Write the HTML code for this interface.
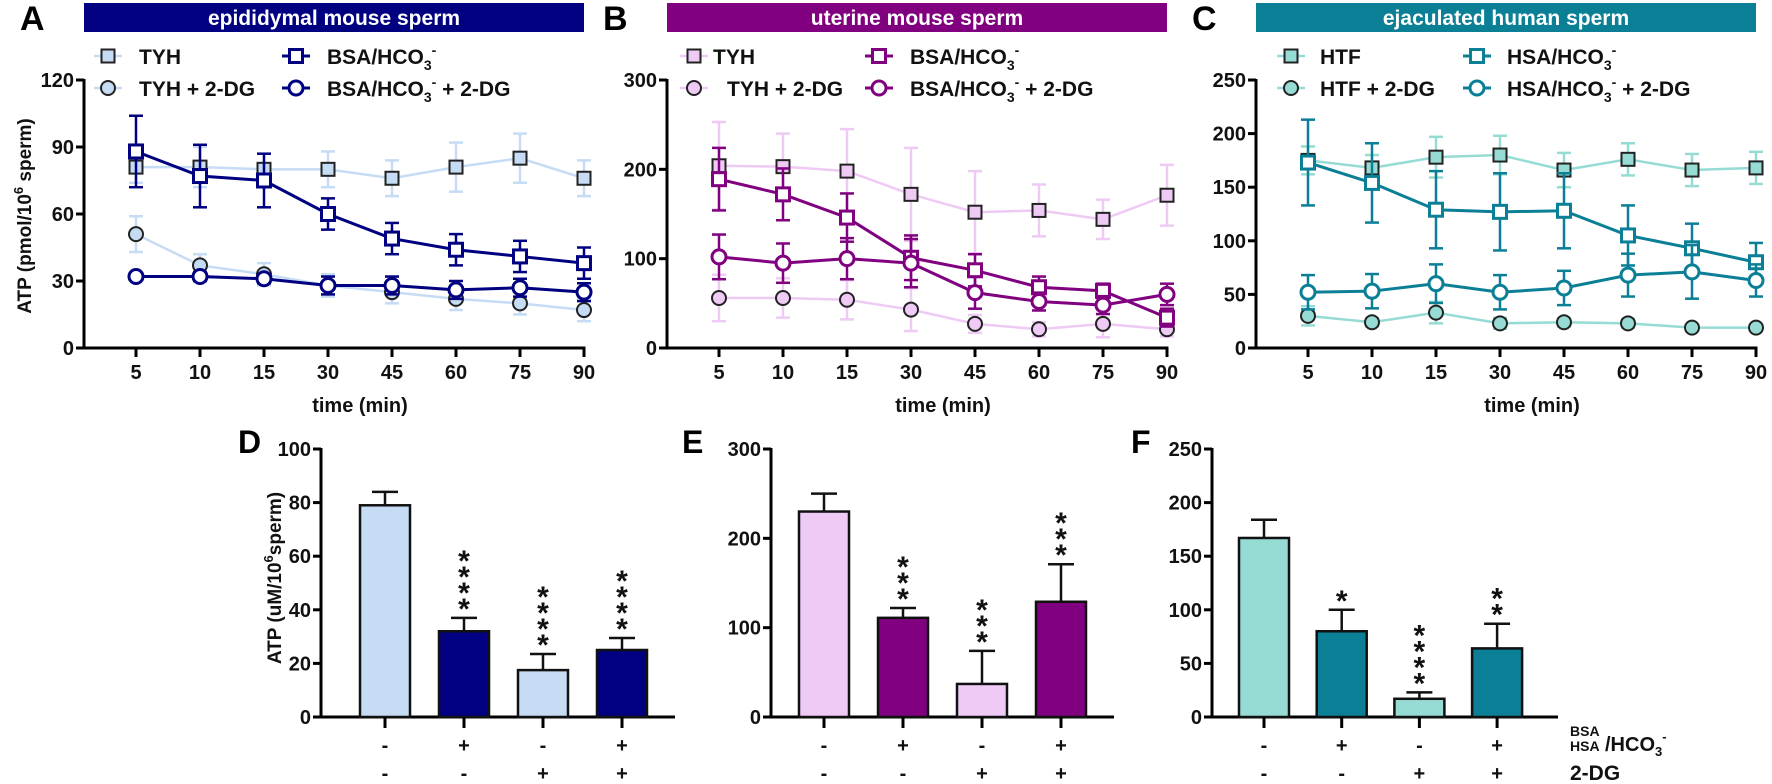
<!DOCTYPE html>
<html><head><meta charset="utf-8"><style>
html,body{margin:0;padding:0;background:#fff;}
svg{display:block;font-family:"Liberation Sans",Arial,sans-serif;font-weight:bold;}
</style></head><body>
<svg id="fig" width="1772" height="784" viewBox="0 0 1772 784" xmlns="http://www.w3.org/2000/svg"></svg>
<script>
const times=['5','10','15','30','45','60','75','90'];
const aTicks=[0,30,60,90,120], bTicks=[0,100,200,300], cTicks=[0,50,100,150,200,250];
// Panel A
const aTYH=[81,81,80,80,76,81,85,76], aTYHerr=[7,9,7,8,8,11,11,8];
const aBSA=[88,77,75,60,49,44,41,38], aBSAerr=[16,14,12,7,7,7,7,7];
const aTYH2=[51,37,33,28,25,22,20,17], aTYH2err=[8,5,5,5,5,5,5,5];
const aBSA2=[32,32,31,28,28,26,27,25], aBSA2err=[1,2,2,4,4,4,4,4];
// Panel B
const bTYH=[204,203,198,172,152,154,144,171], bTYHerr=[49,37,47,52,46,29,22,34];
const bBSA=[189,172,146,101,87,68,64,34], bBSAerr=[35,29,27,25,18,12,8,10];
const bTYH2=[56,56,54,43,27,21,27,21], bTYH2err=[26,22,22,24,10,8,15,8];
const bBSA2=[102,95,100,95,62,52,48,60], bBSA2err=[25,22,23,27,18,10,10,12];
// Panel C
const cHTF=[175,168,178,180,166,176,166,168], cHTFerr=[13,12,19,18,16,15,15,15];
const cHSA=[173,154,129,127,128,105,93,80], cHSAerr=[40,37,36,36,35,28,23,18];
const cHTF2=[30,24,33,23,24,23,19,19], cHTF2err=[9,4,10,5,4,4,3,3];
const cHSA2=[52,53,60,52,56,68,71,63], cHSA2err=[16,16,18,16,16,20,25,15];
// Bar panels
const dVals=[79,32,17.5,25], dErr=[5,5,6,4.5], dStars=['','****','****','****'];
const eVals=[230,111,37,129], eErr=[20,11,37,42], eStars=['','***','***','***'];
const fVals=[167,80,17,64], fErr=[17,20,6,23], fStars=['','*','****','**'];
const dTicks=[0,20,40,60,80,100], eTicks=[0,100,200,300], fTicks=[0,50,100,150,200,250];
const row1=['-','+','-','+'], row2=['-','-','+','+'];

const NS='http://www.w3.org/2000/svg';
const svg=document.getElementById('fig');
function mk(tag,attrs,parent,text){const e=document.createElementNS(NS,tag);for(const k in attrs)e.setAttribute(k,attrs[k]);if(text!==undefined)e.textContent=text;(parent||svg).appendChild(e);return e;}
function grp(name,parent){const g=mk('g',{},parent);return g;}

function legendLabel(g,x,y,base,suffix){
  const t=mk('text',{x:x,y:y,'font-size':21,fill:'#111'},g);
  
  mk('tspan',{},t,base);
  if(base.indexOf('HCO')>=0){mk('tspan',{'font-size':14,dy:6},t,'3');mk('tspan',{'font-size':14,dy:-15},t,'-');mk('tspan',{dy:9},t,suffix||'');}
  else if(suffix){mk('tspan',{},t,suffix);}
}
function marker(g,shape,x,y,fill,stroke,sw){
  let m;
  if(shape==='sq')m=mk('rect',{x:x-6.5,y:y-6.5,width:13,height:13,fill:fill,stroke:stroke,'stroke-width':sw},g);
  else m=mk('circle',{cx:x,cy:y,r:7,fill:fill,stroke:stroke,'stroke-width':sw},g);
  return m;
}

function linePanel(p){
  const g=grp(p.name);
  const x0=p.ax, step=64, first=p.ax+52;
  const xs=i=>first+i*step;
  const y0=348, yt=80, ymax=p.ticks[p.ticks.length-1];
  const ys=v=>y0-(v/ymax)*(y0-yt);
  const hr=mk('rect',{x:p.ax,y:3,width:xs(7)-p.ax,height:29,fill:p.dark},g);
  
  const ht=mk('text',{x:(p.ax+xs(7))/2,y:25,'text-anchor':'middle','font-size':21,fill:'#fff'},g,p.title);
  
  const pl=mk('text',{x:p.ax-64,y:30,'font-size':34,fill:'#000'},g,p.letter);
  
  const ya=mk('line',{x1:x0,y1:yt-1,x2:x0,y2:y0,stroke:'#000','stroke-width':3},g);
  
  const xa=mk('line',{x1:x0-8,y1:y0,x2:xs(7)+1.5,y2:y0,stroke:'#000','stroke-width':3},g);
  
  p.ticks.forEach(t=>{const y=ys(t);mk('line',{x1:x0-8,y1:y,x2:x0,y2:y,stroke:'#000','stroke-width':3},g);
    const tl=mk('text',{x:x0-10,y:y+7,'text-anchor':'end','font-size':20,fill:'#111'},g,String(t));
    });
  times.forEach((t,i)=>{mk('line',{x1:xs(i),y1:y0,x2:xs(i),y2:y0+9,stroke:'#000','stroke-width':3},g);
    const tl=mk('text',{x:xs(i),y:y0+31,'text-anchor':'middle','font-size':20,fill:'#111'},g,t);
    });
  const xt=mk('text',{x:(first+xs(7))/2,y:412,'text-anchor':'middle','font-size':20,fill:'#111'},g,'time (min)');
  
  if(p.ytitle){const yt2=mk('text',{x:0,y:0,transform:'translate(31,216) rotate(-90)','text-anchor':'middle','font-size':19,fill:'#111'},g);
    
    mk('tspan',{},yt2,'ATP (pmol/10');mk('tspan',{'font-size':13,dy:-8},yt2,'6');mk('tspan',{dy:8},yt2,' sperm)');}
  p.series.forEach(s=>{
    const sg=grp('series-'+s.key,g);
    const col=s.light?p.light:p.dark;
    s.vals.forEach((v,i)=>{const x=xs(i),e=s.err[i];
      mk('line',{x1:x,y1:ys(v+e),x2:x,y2:ys(v-e),stroke:col,'stroke-width':2.5},sg);
      mk('line',{x1:x-7,y1:ys(v+e),x2:x+7,y2:ys(v+e),stroke:col,'stroke-width':2.5},sg);
      mk('line',{x1:x-7,y1:ys(v-e),x2:x+7,y2:ys(v-e),stroke:col,'stroke-width':2.5},sg);});
    const pts=s.vals.map((v,i)=>xs(i)+','+ys(v)).join(' ');
    mk('polyline',{points:pts,fill:'none',stroke:col,'stroke-width':s.light?2.5:3},sg);
    s.vals.forEach((v,i)=>{const m=s.light?marker(sg,s.shape,xs(i),ys(v),p.light,'#222',2):marker(sg,s.shape,xs(i),ys(v),'#fff',p.dark,3);
      });
  });
  const lg=grp('legend',g);
  p.series.forEach(s=>{
    const col=s.light?p.light:p.dark;
    const mx=p.ax+s.lx, my=s.ly;
    const le=grp('legend-entry',lg);
    mk('line',{x1:mx-14,y1:my,x2:mx+14,y2:my,stroke:col,'stroke-width':s.light?2.5:3},le);
    if(s.light)marker(le,s.shape,mx,my,p.light,'#222',2);else marker(le,s.shape,mx,my,'#fff',p.dark,3);
    legendLabel(le,p.ax+s.tx,my+8,s.label,s.suffix);
  });
}

linePanel({name:'panel-a',letter:'A',title:'epididymal mouse sperm',ax:84,ticks:aTicks,dark:'#000080',light:'#c6dcf5',ytitle:true,series:[
 {key:'tyh',vals:aTYH,err:aTYHerr,light:true,shape:'sq',lx:24,ly:56,tx:55,label:'TYH'},
 {key:'tyh-2dg',vals:aTYH2,err:aTYH2err,light:true,shape:'ci',lx:24,ly:88,tx:55,label:'TYH + 2-DG'},
 {key:'bsa',vals:aBSA,err:aBSAerr,light:false,shape:'sq',lx:212,ly:56,tx:243,label:'BSA/HCO'},
 {key:'bsa-2dg',vals:aBSA2,err:aBSA2err,light:false,shape:'ci',lx:212,ly:88,tx:243,label:'BSA/HCO',suffix:' + 2-DG'}]});
linePanel({name:'panel-b',letter:'B',title:'uterine mouse sperm',ax:667,ticks:bTicks,dark:'#800080',light:'#eecaf5',series:[
 {key:'tyh',vals:bTYH,err:bTYHerr,light:true,shape:'sq',lx:27,ly:56,tx:46,label:'TYH'},
 {key:'tyh-2dg',vals:bTYH2,err:bTYH2err,light:true,shape:'ci',lx:27,ly:88,tx:60,label:'TYH + 2-DG'},
 {key:'bsa',vals:bBSA,err:bBSAerr,light:false,shape:'sq',lx:212,ly:56,tx:243,label:'BSA/HCO'},
 {key:'bsa-2dg',vals:bBSA2,err:bBSA2err,light:false,shape:'ci',lx:212,ly:88,tx:243,label:'BSA/HCO',suffix:' + 2-DG'}]});
linePanel({name:'panel-c',letter:'C',title:'ejaculated human sperm',ax:1256,ticks:cTicks,dark:'#0a7f96',light:'#96dcd4',series:[
 {key:'htf',vals:cHTF,err:cHTFerr,light:true,shape:'sq',lx:35,ly:56,tx:64,label:'HTF'},
 {key:'htf-2dg',vals:cHTF2,err:cHTF2err,light:true,shape:'ci',lx:35,ly:88,tx:64,label:'HTF + 2-DG'},
 {key:'hsa',vals:cHSA,err:cHSAerr,light:false,shape:'sq',lx:221,ly:56,tx:251,label:'HSA/HCO'},
 {key:'hsa-2dg',vals:cHSA2,err:cHSA2err,light:false,shape:'ci',lx:221,ly:88,tx:251,label:'HSA/HCO',suffix:' + 2-DG'}]});

function barPanel(p){
  const g=grp(p.name);
  const y0=717, yt=449, ymax=p.ticks[p.ticks.length-1];
  const ys=v=>y0-(v/ymax)*(y0-yt);
  const xs=i=>p.ax+p.off+i*p.step;
  const pl=mk('text',{x:p.lx,y:453,'font-size':32,fill:'#000'},g,p.letter);
  
  const ya=mk('line',{x1:p.ax,y1:yt-1,x2:p.ax,y2:y0,stroke:'#000','stroke-width':3},g);
  
  const xa=mk('line',{x1:p.ax-8,y1:y0,x2:p.xend,y2:y0,stroke:'#000','stroke-width':3},g);
  
  p.ticks.forEach(t=>{const y=ys(t);mk('line',{x1:p.ax-8,y1:y,x2:p.ax,y2:y,stroke:'#000','stroke-width':3},g);
    const tl=mk('text',{x:p.ax-10,y:y+7,'text-anchor':'end','font-size':20,fill:'#111'},g,String(t));
    });
  if(p.ytitle){const t=mk('text',{x:0,y:0,transform:'translate(281,578) rotate(-90)','text-anchor':'middle','font-size':19,fill:'#111'},g);
    
    mk('tspan',{},t,'ATP (uM/10');mk('tspan',{'font-size':13,dy:-8},t,'6');mk('tspan',{dy:8},t,'sperm)');}
  p.vals.forEach((v,i)=>{
    const x=xs(i), col=(i%2===0)?p.light:p.dark, e=p.err[i];
    const bg=grp('bar-'+(i+1),g);
    mk('line',{x1:x,y1:ys(v),x2:x,y2:ys(v+e),stroke:'#111','stroke-width':2.5},bg);
    mk('line',{x1:x-13,y1:ys(v+e),x2:x+13,y2:ys(v+e),stroke:'#111','stroke-width':2.5},bg);
    mk('rect',{x:x-25,y:ys(v),width:50,height:y0-ys(v),fill:col,stroke:'#111','stroke-width':2.5},bg);
    mk('line',{x1:x,y1:y0,x2:x,y2:y0+11,stroke:'#000','stroke-width':3},bg);
    const st=p.stars[i];
    for(let k=0;k<st.length;k++){
      const s=mk('text',{x:x,y:ys(v+e)+1-k*16,'text-anchor':'middle','font-size':30,fill:'#111'},bg,'*');
      
    }
    const r1=mk('text',{x:x,y:752,'text-anchor':'middle','font-size':20,fill:'#111'},g,row1[i]);
    
    const r2=mk('text',{x:x,y:780,'text-anchor':'middle','font-size':20,fill:'#111'},g,row2[i]);
    
  });
}
barPanel({name:'panel-d',letter:'D',ax:321,off:64,step:79,xend:675,ticks:dTicks,vals:dVals,err:dErr,stars:dStars,light:'#c6dcf5',dark:'#000080',lx:238,ytitle:true});
barPanel({name:'panel-e',letter:'E',ax:771,off:53,step:79,xend:1114,ticks:eTicks,vals:eVals,err:eErr,stars:eStars,light:'#eecaf5',dark:'#800080',lx:682});
barPanel({name:'panel-f',letter:'F',ax:1212,off:52,step:77.7,xend:1558,ticks:fTicks,vals:fVals,err:fErr,stars:fStars,light:'#96dcd4',dark:'#0a7f96',lx:1131});

const rl=grp('row-labels');
mk('text',{x:1570,y:736,'font-size':14,fill:'#111'},rl,'BSA');
mk('text',{x:1570,y:751,'font-size':14,fill:'#111'},rl,'HSA');
const hc=mk('text',{x:1605,y:751,'font-size':20,fill:'#111'},rl);
mk('tspan',{},hc,'/HCO');mk('tspan',{'font-size':13,dy:5},hc,'3');mk('tspan',{'font-size':13,dy:-15},hc,'-');
mk('text',{x:1570,y:780,'font-size':21,fill:'#111'},rl,'2-DG');
</script>
</body></html>
